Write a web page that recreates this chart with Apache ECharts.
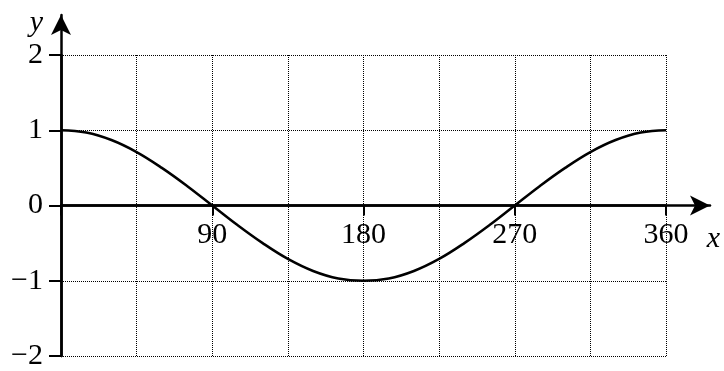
<!DOCTYPE html>
<html>
<head>
<meta charset="utf-8">
<script src="https://cdn.jsdelivr.net/npm/echarts@6/dist/echarts.min.js"></script>
<style>
  html, body { margin: 0; background: #fff; }
  #chart { width: 724px; height: 371px; }
</style>
</head>
<body>
<div id="chart"></div>
<script>
// angle in degrees and the curve value
const xDeg = [0, 15, 30, 45, 60, 75, 90, 105, 120, 135, 150, 165, 180,
  195, 210, 225, 240, 255, 270, 285, 300, 315, 330, 345, 360]
const yVal = [1, 0.97, 0.87, 0.71, 0.5, 0.26, 0, -0.26, -0.5, -0.71, -0.87, -0.97, -1,
  -0.97, -0.87, -0.71, -0.5, -0.26, 0, 0.26, 0.5, 0.71, 0.87, 0.97, 1]
const xTicks = [90, 180, 270, 360]
const yTicks = [-2, -1, 0, 1, 2]

// plot box (px) and where the arrow heads sit
const W = 724, H = 371
const boxL = 61, boxR = 666, boxT = 55, boxB = 356
const arrowX = 710, arrowY = 15

const xMin = 0, xMax = xTicks[xTicks.length - 1]
const yMin = yTicks[0], yMax = yTicks[yTicks.length - 1]
// the arrow axes run past the box, keep the same scale
const xMaxArrow = xMin + (xMax - xMin) * (arrowX - boxL) / (boxR - boxL)
const yMaxArrow = yMin + (yMax - yMin) * (boxB - arrowY) / (boxB - boxT)
// lift the x axis (line, ticks, labels) from the box bottom up to y = 0
const zeroLift = (boxB - boxT) * (0 - yMin) / (yMax - yMin)

const font = "'Liberation Serif', 'Times New Roman', serif"
const dotted = { color: '#000', width: 1, type: [1, 1] }
const axisLine = { show: true, lineStyle: { color: '#000', width: 2.5 } }

const chart = echarts.init(document.getElementById('chart'))
chart.setOption({
  animation: false,
  grid: [
    { left: boxL, right: W - boxR, top: boxT, bottom: H - boxB, outerBoundsMode: 'none', containLabel: false },
    { left: boxL, right: W - arrowX, top: arrowY, bottom: H - boxB, outerBoundsMode: 'none', containLabel: false },
  ],
  xAxis: [
    {
      type: 'value', gridIndex: 0, min: xMin, max: xMax, interval: 90,
      position: 'bottom', offset: -zeroLift,
      axisLine: { ...axisLine, onZero: false },
      axisTick: { show: true, inside: false, length: 10, lineStyle: { color: '#000', width: 2 } },
      axisLabel: {
        margin: 15, color: '#000', fontFamily: font, fontSize: 30,
        formatter: v => (xTicks.includes(v) ? String(v) : ''),
      },
      splitLine: { show: true, lineStyle: dotted },
      minorTick: { show: false, splitNumber: 2 },
      minorSplitLine: { show: true, lineStyle: dotted },
    },
    {
      type: 'value', gridIndex: 1, min: xMin, max: xMaxArrow,
      axisLine: { ...axisLine, symbol: ['none', 'arrow'], symbolSize: [15, 20] },
      axisTick: { show: false }, axisLabel: { show: false }, splitLine: { show: false },
      name: 'x', nameLocation: 'end', nameGap: 10,
      nameTextStyle: {
        color: '#000', fontFamily: font, fontSize: 30, fontStyle: 'italic',
        align: 'right', verticalAlign: 'top', padding: [19, 0, 0, 0],
      },
    },
  ],
  yAxis: [
    {
      type: 'value', gridIndex: 0, min: yMin, max: yMax, interval: 1,
      axisLine: axisLine,
      axisTick: { show: true, inside: false, length: 12, lineStyle: { color: '#000', width: 2 } },
      axisLabel: {
        margin: 18, color: '#000', fontFamily: font, fontSize: 30,
        formatter: v => String(v).replace('-', '\u2212'),
      },
      splitLine: { show: true, lineStyle: dotted },
    },
    {
      type: 'value', gridIndex: 1, min: yMin, max: yMaxArrow,
      axisLine: { ...axisLine, symbol: ['none', 'arrow'], symbolSize: [15, 20] },
      axisTick: { show: false }, axisLabel: { show: false }, splitLine: { show: false },
      name: 'y', nameLocation: 'end', nameGap: -8,
      nameTextStyle: {
        color: '#000', fontFamily: font, fontSize: 30, fontStyle: 'italic',
        align: 'right', verticalAlign: 'middle', padding: [0, 18, 0, 0],
      },
    },
  ],
  series: [
    {
      type: 'line',
      xAxisIndex: 0, yAxisIndex: 0,
      data: xDeg.map((d, i) => [d, yVal[i]]),
      smooth: 0.4,
      showSymbol: false,
      lineStyle: { color: '#000', width: 2.5 },
    },
  ],
})
</script>
</body>
</html>
